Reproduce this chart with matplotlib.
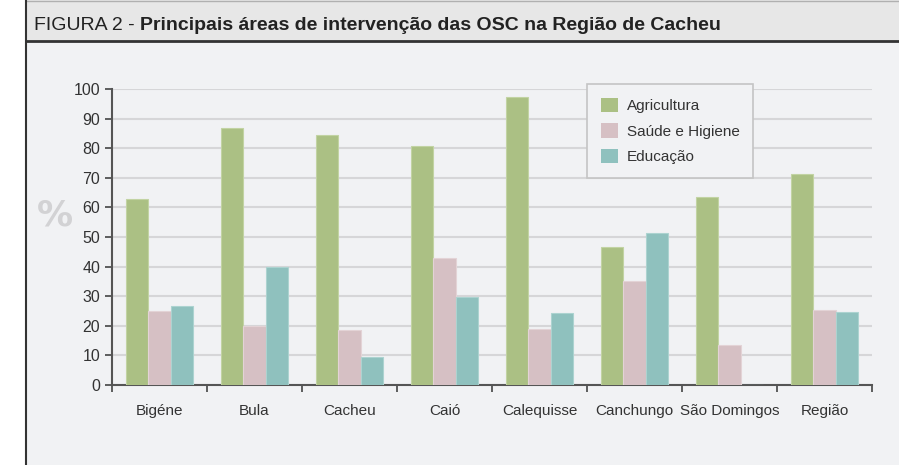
import matplotlib.pyplot as plt
import matplotlib.patches as mpatches
import numpy as np

plt.rcParams['font.family'] = ['Liberation Sans Narrow', 'Liberation Sans', 'DejaVu Sans']

categorias = ['Bigéne', 'Bula', 'Cacheu', 'Caió', 'Calequisse', 'Canchungo', 'São Domingos', 'Região']
agricultura = [62.7, 86.7, 84.5, 80.6, 97.3, 46.7, 63.5, 71.3]
saude = [25.0, 20.0, 18.7, 42.9, 19.0, 35.3, 13.4, 25.5]
educacao = [26.7, 40.0, 9.3, 29.8, 24.4, 51.2, 0.0, 24.5]
series = ['Agricultura', 'Saúde e Higiene', 'Educação']
cores = ['#abc084', '#d6c0c4', '#8fc1be']
bordas = ['#c2d3a3', '#e3d3d6', '#acd3d0']

fig = plt.figure(figsize=(8.99, 4.65), dpi=100)
fig.patch.set_facecolor('white')

# fundo do painel e cabecalho
fig.patches.append(mpatches.Rectangle((26/899, 0), 1, 1, transform=fig.transFigure,
                                      facecolor='#f1f2f4', edgecolor='none', zorder=-2))
fig.patches.append(mpatches.Rectangle((26/899, 1 - 41/465), 1, 41/465, transform=fig.transFigure,
                                      facecolor='#e7e7e7', edgecolor='none', zorder=-1))
fig.add_artist(plt.Line2D([26/899, 1], [1 - 41/465, 1 - 41/465], transform=fig.transFigure,
                          color='#333333', lw=2))
fig.add_artist(plt.Line2D([26/899, 1], [1 - 1/465, 1 - 1/465], transform=fig.transFigure,
                          color='#b0b0b0', lw=1))
fig.add_artist(plt.Line2D([26/899, 26/899], [0, 1], transform=fig.transFigure,
                          color='#333333', lw=1.5))

ax = fig.add_axes([112/899, 1 - 385/465, 760/899, 296/465], zorder=2)
ax.set_facecolor('none')

t1 = fig.text(34/899, 1 - 25/465, 'FIGURA 2 - ', fontsize=14, color='#222222', va='center', ha='left')
ax.annotate('Principais áreas de intervenção das OSC na Região de Cacheu', xy=(1, 0.5),
            xycoords=t1, va='center', ha='left', fontsize=14, fontweight='bold', color='#222222',
            annotation_clip=False)

x = np.arange(len(categorias))
w = 0.232
for i, (vals, nome) in enumerate(zip([agricultura, saude, educacao], series)):
    ax.bar(x + (i - 1) * w, vals, w, color=cores[i], edgecolor=bordas[i], linewidth=0.8,
           label=nome, zorder=3)

ax.set_xlim(-0.5, len(categorias) - 0.5)
ax.set_ylim(0, 100)
ax.set_yticks(range(0, 101, 10))
ax.yaxis.grid(True, color='#d6d6d8', lw=1.5, zorder=0)
ax.set_axisbelow(True)

ax.set_xticks(x)
ax.set_xticklabels(categorias, fontsize=11, color='#333333')
ax.set_xticks(np.arange(-0.5, len(categorias), 1), minor=True)
ax.tick_params(axis='x', which='major', length=0, pad=14)
ax.tick_params(axis='x', which='minor', length=5, color='#444444', width=1.2, direction='out')
ax.tick_params(axis='y', labelsize=11.5, labelcolor='#333333', length=5, color='#444444', width=1.2)

for s in ['top', 'right']:
    ax.spines[s].set_visible(False)
for s in ['left', 'bottom']:
    ax.spines[s].set_color('#555555')
    ax.spines[s].set_linewidth(1.5)

fig.text(55/899, 1 - 215/465, '%', fontsize=26, fontweight='bold', color='#d2d2d4',
         ha='center', va='center', family='DejaVu Sans')

leg = ax.legend(loc='upper left', bbox_to_anchor=(0.625, 1.017), borderaxespad=0, fontsize=11,
                frameon=True, fancybox=False, edgecolor='#c4c4c4', facecolor='#f1f2f4', framealpha=1,
                handlelength=1.1, handleheight=1.1, handletextpad=0.6, labelspacing=0.65,
                borderpad=0.9, labelcolor='#333333')
leg.get_frame().set_linewidth(1.2)
for h in leg.legend_handles:
    h.set_edgecolor('none')

fig.savefig('out.png', dpi=100)
